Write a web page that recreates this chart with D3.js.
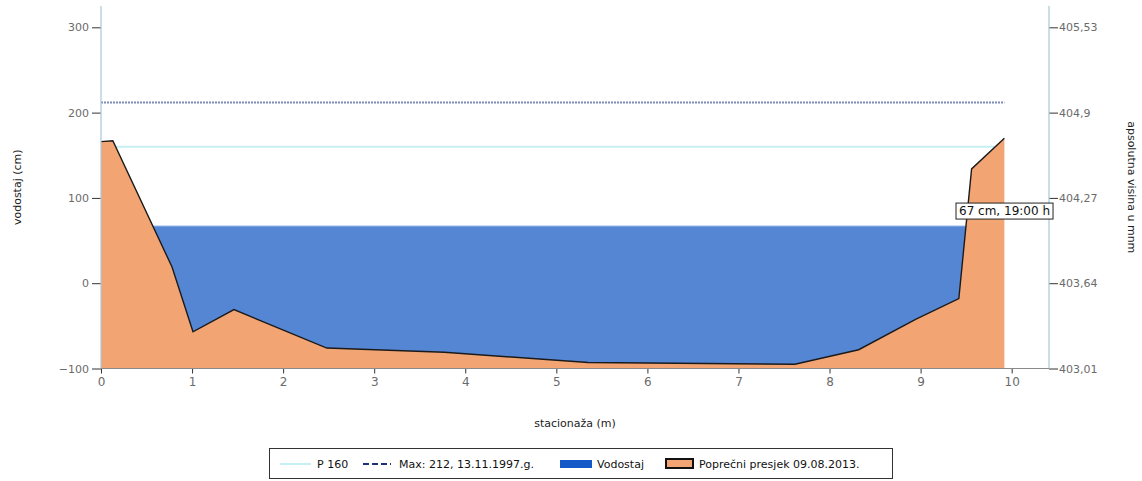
<!DOCTYPE html>
<html>
<head>
<meta charset="utf-8">
<script src="https://cdn.jsdelivr.net/npm/d3@7"></script>
<style>
  html, body { margin: 0; padding: 0; background: #fff; }
  svg { display: block; font-family: "DejaVu Sans", sans-serif; }
</style>
</head>
<body>
<svg id="chart" width="1142" height="481"></svg>
<script>
// ---- data ----
const stations   = [0, 0.13, 0.78, 1.01, 1.46, 2.48, 3.77, 5.35, 7.62, 8.32, 8.95, 9.42, 9.56, 9.92];
const elevations = [166, 167, 19, -57, -31, -76, -81, -93, -95, -78, -42, -18, 134, 170];
const waterLevel = 67;
const pLevel = 160;
const maxLevel = 212;
const xTicks = [0, 1, 2, 3, 4, 5, 6, 7, 8, 9, 10];
const yTicks = [-100, 0, 100, 200, 300];
const rightTicks = [403.01, 403.64, 404.27, 404.9, 405.53];
const rightTickLabels = ["403,01", "403,64", "404,27", "404,9", "405,53"];
const labelText = "67 cm, 19:00 h";
const legendLabels = ["P 160", "Max: 212, 13.11.1997.g.", "Vodostaj", "Poprečni presjek 09.08.2013."];

// ---- layout ----
const svg = d3.select("#chart");
const L = 101, R = 1049, T = 6, B = 368.5;
const x = d3.scaleLinear().domain([0, 10.41]).range([L, R]);
const y = d3.scaleLinear().domain([-100, 325]).range([B, T]);
const yR = d3.scaleLinear().domain([403.01, 405.53]).range([y(-100), y(300)]);

const profile = stations.map((s, i) => ({x: s, y: elevations[i]}));
const xEnd = stations[stations.length - 1];

// horizontal reference lines (behind the areas)
svg.append("line").attr("x1", x(0)).attr("x2", x(xEnd))
  .attr("y1", y(pLevel)).attr("y2", y(pLevel))
  .attr("stroke", "#c6f0f2").attr("stroke-width", 2);
svg.append("line").attr("x1", x(0)).attr("x2", x(xEnd))
  .attr("y1", y(maxLevel)).attr("y2", y(maxLevel))
  .attr("stroke", "#7d8cb8").attr("stroke-width", 2).attr("stroke-dasharray", "2,1");

// cross-section area
const area = d3.area().x(d => x(d.x)).y0(y(-100)).y1(d => y(d.y));
svg.append("path").datum(profile).attr("d", area).attr("fill", "#f2a573");

// water area between intersections
function crossings(level) {
  const pts = [];
  for (let i = 0; i < profile.length - 1; i++) {
    const a = profile[i], b = profile[i + 1];
    if ((a.y - level) * (b.y - level) < 0) {
      const t = (level - a.y) / (b.y - a.y);
      pts.push({x: a.x + t * (b.x - a.x), y: level});
    }
    if (b.y < level) pts.push(b);
  }
  return pts;
}
const wpts = crossings(waterLevel).sort((a, b) => a.x - b.x);
const warea = d3.area().x(d => x(d.x)).y0(d => y(d.y)).y1(y(waterLevel));
svg.append("path").datum(wpts).attr("d", warea).attr("fill", "#5586d4");
svg.append("line")
  .attr("x1", x(wpts[0].x)).attr("x2", x(wpts[wpts.length - 1].x))
  .attr("y1", y(waterLevel)).attr("y2", y(waterLevel))
  .attr("stroke", "#8fb4e6").attr("stroke-width", 1);

// profile stroke
const line = d3.line().x(d => x(d.x)).y(d => y(d.y));
svg.append("path").datum(profile).attr("d", line)
  .attr("fill", "none").attr("stroke", "#1a1a1a").attr("stroke-width", 1.4);

// axes
function styleAxis(g) {
  g.select(".domain").remove();
  g.selectAll(".tick line").attr("stroke", "#333");
  g.selectAll(".tick text").attr("fill", "#6b6b6b").attr("font-size", 11)
    .attr("font-family", "DejaVu Sans, sans-serif");
}
const gl = svg.append("g").attr("transform", `translate(${L},0)`)
  .call(d3.axisLeft(y).tickValues(yTicks).tickSize(9).tickPadding(3).tickFormat(d3.format("d")));
styleAxis(gl);
svg.append("line").attr("x1", L).attr("x2", L).attr("y1", T).attr("y2", B)
  .attr("stroke", "#a9c6dc").attr("stroke-width", 1.2);

const gr = svg.append("g").attr("transform", `translate(${R},0)`)
  .call(d3.axisRight(yR).tickValues(rightTicks).tickSize(9).tickPadding(1)
    .tickFormat((d, i) => rightTickLabels[i]));
styleAxis(gr);
svg.append("line").attr("x1", R).attr("x2", R).attr("y1", T).attr("y2", B)
  .attr("stroke", "#a9c6dc").attr("stroke-width", 1.2);

const gb = svg.append("g").attr("transform", `translate(0,${B})`)
  .call(d3.axisBottom(x).tickValues(xTicks).tickSize(5).tickPadding(4).tickFormat(d3.format("d")));
styleAxis(gb);
gb.selectAll(".tick text").attr("font-size", 12);
svg.append("line").attr("x1", L).attr("x2", R).attr("y1", B).attr("y2", B)
  .attr("stroke", "#8a8a8a").attr("stroke-width", 1.2);

// axis titles
svg.append("text").attr("transform", `translate(21,${(T + B) / 2}) rotate(-90)`)
  .attr("text-anchor", "middle").attr("font-size", 11).attr("fill", "#222").text("vodostaj (cm)");
svg.append("text").attr("transform", `translate(1128,${(T + B) / 2}) rotate(90)`)
  .attr("text-anchor", "middle").attr("font-size", 11).attr("fill", "#222").text("apsolutna visina u mnm");
svg.append("text").attr("x", (L + R) / 2).attr("y", 427)
  .attr("text-anchor", "middle").attr("font-size", 11).attr("fill", "#222").text("stacionaža (m)");

// value label
const lg = svg.append("g");
const lt = lg.append("text").attr("x", 959).attr("y", y(waterLevel) - 11)
  .attr("font-size", 12).attr("fill", "#111").text(labelText);
const lw = lt.node().getComputedTextLength();
lg.insert("rect", "text").attr("x", 956).attr("y", y(waterLevel) - 23)
  .attr("width", lw + 6).attr("height", 16)
  .attr("fill", "#fff").attr("stroke", "#222").attr("stroke-width", 1);

// legend
const leg = svg.append("g");
leg.append("rect").attr("x", 269.5).attr("y", 448.5).attr("width", 623).attr("height", 30)
  .attr("fill", "#fff").attr("stroke", "#333").attr("stroke-width", 1);
const ly = 464;
leg.append("line").attr("x1", 280).attr("x2", 311).attr("y1", ly).attr("y2", ly)
  .attr("stroke", "#c6f0f2").attr("stroke-width", 2);
leg.append("text").attr("x", 317).attr("y", ly + 4).attr("font-size", 11).attr("fill", "#111").text(legendLabels[0]);
leg.append("line").attr("x1", 363).attr("x2", 391).attr("y1", ly).attr("y2", ly)
  .attr("stroke", "#1f2f80").attr("stroke-width", 2).attr("stroke-dasharray", "6,3");
leg.append("text").attr("x", 399).attr("y", ly + 4).attr("font-size", 11).attr("fill", "#111").text(legendLabels[1]);
leg.append("rect").attr("x", 560).attr("y", ly - 4).attr("width", 32).attr("height", 8).attr("fill", "#1558c8");
leg.append("text").attr("x", 597).attr("y", ly + 4).attr("font-size", 11).attr("fill", "#111").text(legendLabels[2]);
leg.append("rect").attr("x", 666).attr("y", ly - 5).attr("width", 27).attr("height", 9)
  .attr("fill", "#f2a573").attr("stroke", "#111").attr("stroke-width", 2);
leg.append("text").attr("x", 699).attr("y", ly + 4).attr("font-size", 11).attr("fill", "#111").text(legendLabels[3]);
</script>
</body>
</html>
